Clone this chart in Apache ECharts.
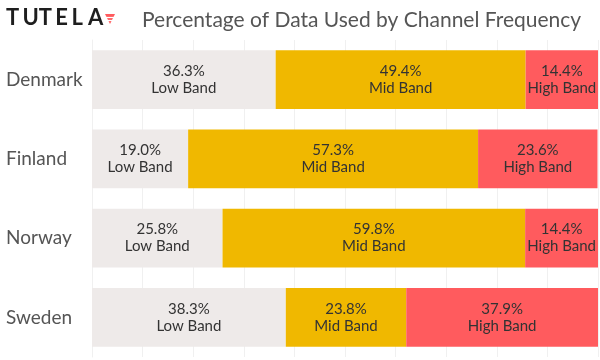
<!DOCTYPE html>
<html>
<head>
<meta charset="utf-8">
<script src="https://cdn.jsdelivr.net/npm/echarts@6/dist/echarts.min.js"></script>
<style>html,body{margin:0;padding:0;background:#fff}#c{width:600px;height:360px}</style>
</head>
<body>
<div id="c"></div>
<script>
const countries = ['Denmark', 'Finland', 'Norway', 'Sweden'];
const lowBand = [36.3, 19.0, 25.8, 38.3];
const midBand = [49.4, 57.3, 59.8, 23.8];
const highBand = [14.4, 23.6, 14.4, 37.9];
const seriesNames = ['Low Band', 'Mid Band', 'High Band'];
const seriesColors = ['#EEEAE9', '#F0B800', '#FF5B5E'];
const titleText = 'Percentage of Data Used by Channel Frequency';
const logoText = 'TUTELA';

const FONT = 'Lato, "Open Sans", sans-serif';
const chart = echarts.init(document.getElementById('c'));

const logoLetters = logoText.split('').map((ch, i) => ({
  type: 'text', left: 6 + i * 16.4, top: 7,
  style: { text: ch, font: 'bold 22px ' + FONT, fill: '#1e1e1e' }
}));

function mk(name, data, color) {
  return {
    name, type: 'bar', stack: 'total', data,
    barCategoryGap: '26%',
    itemStyle: { color },
    label: {
      show: true, position: 'inside',
      formatter: p => p.value.toFixed(1) + '%\n' + name,
      fontFamily: FONT, fontSize: 15, color: '#333', lineHeight: 17
    }
  };
}

chart.setOption({
  animation: false,
  textStyle: { fontFamily: FONT },
  title: {
    text: titleText, left: 137, top: 5,
    textStyle: { fontFamily: FONT, fontSize: 21, fontWeight: 'normal', color: '#555' }
  },
  graphic: logoLetters.concat([
    { type: 'polygon', shape: { points: [[105, 14], [115, 14], [110, 24]] }, style: { fill: '#FF5B5E' } },
    { type: 'line', shape: { x1: 104, y1: 17.5, x2: 116, y2: 17.5 }, style: { stroke: '#fff', lineWidth: 1.2 } },
    { type: 'line', shape: { x1: 104, y1: 20.5, x2: 116, y2: 20.5 }, style: { stroke: '#fff', lineWidth: 1.2 } }
  ]),
  grid: { left: 92, right: 2, top: 40, bottom: 3, containLabel: false },
  xAxis: {
    type: 'value', min: 0, max: 100, interval: 10,
    axisLabel: { show: false },
    axisLine: { show: false }, axisTick: { show: false },
    splitLine: { show: true, lineStyle: { color: '#f0f0f0', width: 1 } }
  },
  yAxis: {
    type: 'category', data: countries, inverse: true,
    axisLine: { show: true, lineStyle: { color: '#f0f0f0' } },
    axisTick: { show: false },
    axisLabel: { fontFamily: FONT, fontSize: 19, color: '#555', margin: 86, align: 'left' }
  },
  series: [
    mk(seriesNames[0], lowBand, seriesColors[0]),
    mk(seriesNames[1], midBand, seriesColors[1]),
    mk(seriesNames[2], highBand, seriesColors[2])
  ]
});
</script>
</body>
</html>
